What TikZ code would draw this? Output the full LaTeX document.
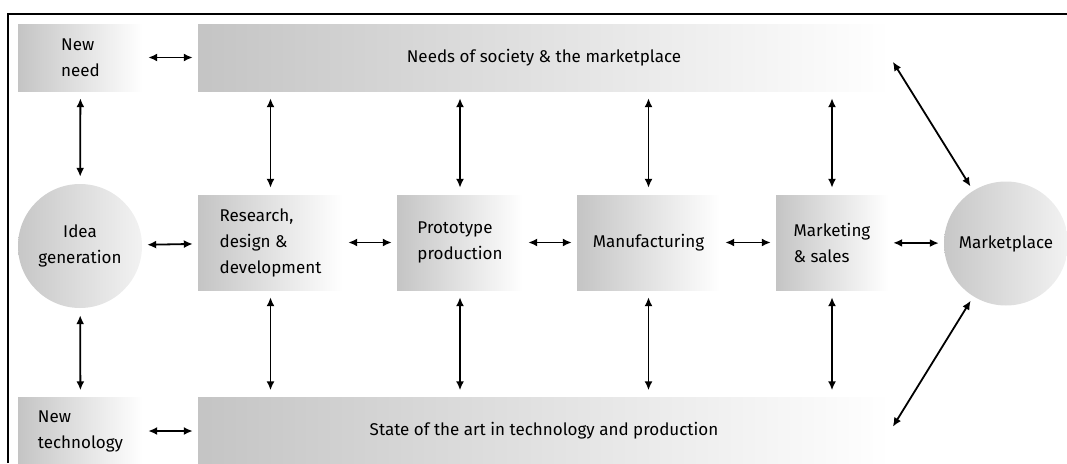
\documentclass[tikz,border=0pt]{standalone}
\usepackage{fontspec}
\setmainfont{Fira Sans}
\usetikzlibrary{arrows.meta,shapes.geometric}

\begin{document}
\begin{tikzpicture}[
    x=1pt, y=-1pt,
    font=\fontsize{17}{26}\selectfont,
    box/.style={rectangle, left color=black!23, right color=white,
        minimum width=#1, minimum height=67pt, inner sep=0pt, align=left},
    stage/.style={box=#1, minimum height=95pt},
    blob/.style={circle, left color=black!22, right color=black!5,
        minimum size=124pt, inner sep=0pt, align=center},
    link/.style={{Latex[length=9pt,width=8pt]}-{Latex[length=9pt,width=8pt]},
        line width=1.8pt, shorten >=5pt, shorten <=5pt}
]
    \useasboundingbox (0,0) rectangle (1067,463);
    \draw[line width=2pt] (8,463) -- (8,14) -- (1067,14);

    % top and bottom bands
    \node[box=125pt] (need) at (80.5,57.5) {New\\need};
    \node[box=692pt] (society) at (544,57.5) {Needs of society \& the marketplace};
    \node[box=125pt] (tech) at (80.5,431) {New\\technology};
    \node[box=692pt] (art) at (544,431) {State of the art in technology and production};

    % middle row: idea -> ... -> market
    \node[blob] (idea) at (80,246) {Idea\\generation};
    \node[stage=145pt] (rd) at (270.5,242.5) {Research,\\design \&\\development};
    \node[stage=126pt] (proto) at (460,242.5) {Prototype\\production};
    \node[stage=143pt] (manuf) at (648.5,242.5) {Manufacturing};
    \node[stage=112pt] (sales) at (832,242.5) {Marketing\\\& sales};
    \node[blob] (market) at (1006,243.5) {Marketplace};

    \path[link]
        (need) edge (society)
        (tech) edge (art)
        (idea) edge (rd)
        (rd) edge (proto)
        (proto) edge (manuf)
        (manuf) edge (sales)
        (sales) edge (market)
        (society.east) edge (market)
        (art.east) edge (market);

    % vertical links to both bands
    \path[link, shorten >=7pt, shorten <=7pt]
        (need) edge (idea)
        (idea) edge (tech)
        (rd.north) edge (rd.north |- society.south)
        (rd.south) edge (rd.south |- art.north)
        (proto.north) edge (proto.north |- society.south)
        (proto.south) edge (proto.south |- art.north)
        (manuf.north) edge (manuf.north |- society.south)
        (manuf.south) edge (manuf.south |- art.north)
        (sales.north) edge (sales.north |- society.south)
        (sales.south) edge (sales.south |- art.north);
\end{tikzpicture}
\end{document}
